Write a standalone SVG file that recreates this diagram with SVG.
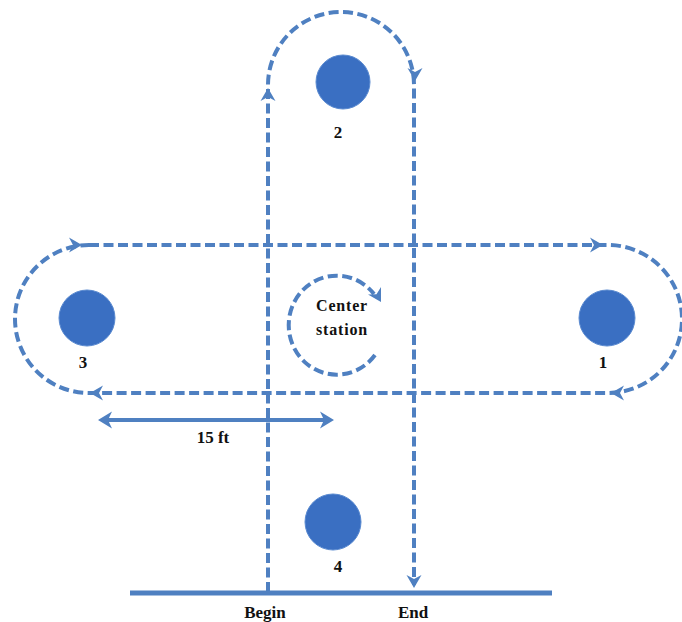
<svg xmlns="http://www.w3.org/2000/svg" xmlns:xlink="http://www.w3.org/1999/xlink" width="682" height="622" viewBox="0 0 682 622">
  <style>
    .route { fill: none; stroke: #4f80c1; stroke-width: 4; stroke-dasharray: 10 4.5; }
    .station { fill: #3a6fc2; stroke: #5a8ad0; stroke-width: 1; }
    .lbl { font-family: "Liberation Serif", "Times New Roman", serif; font-weight: bold; font-size: 17px; fill: #111; text-anchor: middle; }
    .ctr { font-size: 16px; letter-spacing: 0.8px; }
    .solid { fill: none; stroke: #4f80c1; stroke-width: 4; }
    .head { fill: #4f80c1; }
  </style>
  <defs>
    <!-- notched arrowhead, tip at origin pointing along +x -->
    <path id="ah" d="M0,0 L-13,-7.5 L-9,0 L-13,7.5 Z"/>
    <path id="sh" d="M0,0 L-14,-8.5 L-10,0 L-14,8.5 Z"/>
  </defs>

  <rect width="682" height="622" fill="#ffffff"/>

  <g id="connectors">
    <!-- outbound leg up to station 2 and back down to the end -->
    <path class="route" d="M268,592 L268,85 A73,73 0 0 1 414,85 L414,585"/>
    <!-- loop around stations 3 and 1 -->
    <path class="route" d="M89,245 L608,245 A74,74 0 0 1 608,393 L89,393 A74,74 0 0 1 89,245 Z"/>
    <!-- turn at the center station -->
    <path class="route" d="M375,355 A48,49.5 0 1 1 374,294"/>
    <!-- distance marker -->
    <path class="solid" d="M104,420 L327,420"/>
    <g class="head">
      <use xlink:href="#ah" transform="translate(268,88) rotate(-90)"/>
      <use xlink:href="#ah" transform="translate(415,81) rotate(90)"/>
      <use xlink:href="#ah" transform="translate(414,588) rotate(90)"/>
      <use xlink:href="#ah" transform="translate(82,245)"/>
      <use xlink:href="#ah" transform="translate(603,245)"/>
      <use xlink:href="#ah" transform="translate(611,393) rotate(180)"/>
      <use xlink:href="#ah" transform="translate(90,393) rotate(180)"/>
      <use xlink:href="#ah" transform="translate(381,302) rotate(60)"/>
      <use xlink:href="#sh" transform="translate(98,420) rotate(180)"/>
      <use xlink:href="#sh" transform="translate(334,420)"/>
    </g>
    <!-- ground line -->
    <path d="M130,593 L552,593" stroke="#4f80c1" stroke-width="5" fill="none"/>
  </g>

  <g id="station-2">
    <circle class="station" cx="343" cy="82" r="27"/>
    <text class="lbl" x="338" y="138">2</text>
  </g>
  <g id="station-3">
    <circle class="station" cx="87" cy="318" r="28"/>
    <text class="lbl" x="83" y="368">3</text>
  </g>
  <g id="station-1">
    <circle class="station" cx="607" cy="318" r="28"/>
    <text class="lbl" x="603" y="368">1</text>
  </g>
  <g id="station-4">
    <circle class="station" cx="333" cy="522" r="28"/>
    <text class="lbl" x="338" y="572">4</text>
  </g>
  <g id="center-station">
    <text class="lbl ctr" x="342" y="311">Center</text>
    <text class="lbl ctr" x="342" y="335">station</text>
  </g>
  <g id="labels">
    <text class="lbl" x="213" y="443">15 ft</text>
    <text class="lbl" x="265" y="618">Begin</text>
    <text class="lbl" x="413" y="618">End</text>
  </g>
</svg>
